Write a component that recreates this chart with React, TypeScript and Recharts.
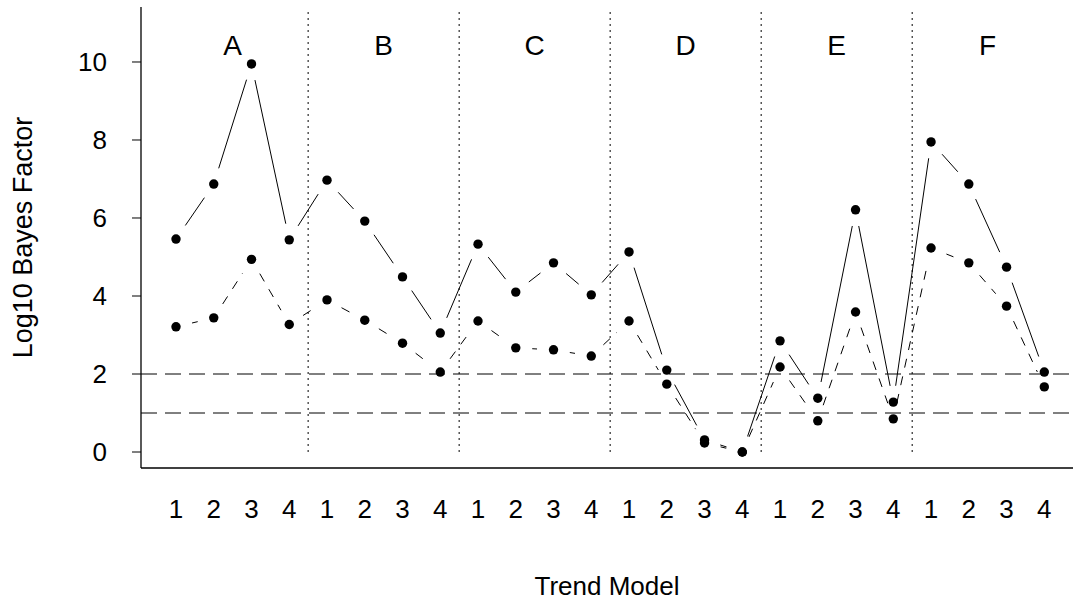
import React from "react";
import {
  ComposedChart,
  Scatter,
  XAxis,
  YAxis,
  ReferenceLine,
  ReferenceDot,
  Label,
} from "recharts";

// trend models inside each group, and the groups
const modelLabels = ["1", "2", "3", "4"];
const groups = ["A", "B", "C", "D", "E", "F"];

// log10 Bayes factor, solid series (upper)
const solidValues = [
  5.46, 6.87, 9.95, 5.44, 6.97, 5.92, 4.49, 3.05, 5.33, 4.1, 4.85, 4.03, 5.13,
  2.1, 0.31, 0.0, 2.85, 1.38, 6.21, 1.28, 7.95, 6.87, 4.74, 2.05,
];
// dashed series (lower)
const dashedValues = [
  3.21, 3.44, 4.94, 3.27, 3.9, 3.38, 2.79, 2.05, 3.36, 2.67, 2.62, 2.46, 3.36,
  1.74, 0.23, 0.0, 2.18, 0.8, 3.59, 0.85, 5.23, 4.85, 3.74, 1.67,
];
// threshold lines
const thresholds = [1, 2];
const yTicks = [0, 2, 4, 6, 8, 10];

const W = 1073;
const H = 604;
const LEFT = 141;
const TOP = 7;
const BOTTOM_AXIS = 136;
const X_DOMAIN: [number, number] = [0.073, 24.76];
const Y_DOMAIN: [number, number] = [-0.41, 11.41];
const FONT = "'Liberation Sans', Arial, Helvetica, sans-serif";

const plotW = W - LEFT;
const plotH = H - TOP - BOTTOM_AXIS;
const pxPerX = plotW / (X_DOMAIN[1] - X_DOMAIN[0]);
const pxPerY = plotH / (Y_DOMAIN[1] - Y_DOMAIN[0]);
const GAP = 16.5; // type="b" gap around each point, in px

const xTicks = solidValues.map((_, i) => i + 1);

const toPoints = (vals: number[]) => vals.map((y, i) => ({ x: i + 1, y }));

// line pieces between points, pulled back from the points like R's type="b"
function gappedSegments(vals: number[]) {
  const segs: { x: number; y: number }[][] = [];
  for (let i = 0; i < vals.length - 1; i++) {
    const x1 = i + 1;
    const x2 = i + 2;
    const y1 = vals[i];
    const y2 = vals[i + 1];
    const len = Math.hypot((x2 - x1) * pxPerX, (y2 - y1) * pxPerY);
    if (len <= 2 * GAP) continue;
    const t = GAP / len;
    segs.push([
      { x: x1 + (x2 - x1) * t, y: y1 + (y2 - y1) * t },
      { x: x2 - (x2 - x1) * t, y: y2 - (y2 - y1) * t },
    ]);
  }
  return segs;
}

const solidSegs = gappedSegments(solidValues);
const dashedSegs = gappedSegments(dashedValues);

const Dot = (p: any) => <circle cx={p.cx} cy={p.cy} r={4.7} fill="#000" />;

export default function App() {
  return (
    <div style={{ position: "absolute", left: 0, top: 0, background: "#fff" }}>
      <ComposedChart
        width={W}
        height={H}
        margin={{ top: TOP, right: 0, bottom: 0, left: 0 }}
        style={{ fontFamily: FONT }}
      >
        <XAxis
          type="number"
          dataKey="x"
          domain={X_DOMAIN}
          allowDataOverflow
          ticks={xTicks}
          interval={0}
          tickLine={false}
          tickSize={0}
          tickMargin={32}
          tickFormatter={(v: number) => modelLabels[(v - 1) % 4]}
          tick={{ fill: "#000", fontSize: 26 }}
          axisLine={{ stroke: "#000", strokeWidth: 1.3 }}
          height={BOTTOM_AXIS}
        >
          <Label
            content={(p: any) => {
              const vb = p.viewBox || { x: LEFT, y: H - BOTTOM_AXIS, width: plotW };
              return (
                <text
                  x={vb.x + vb.width / 2}
                  y={vb.y + 127}
                  textAnchor="middle"
                  fontSize={26}
                  fill="#000"
                  fontFamily={FONT}
                >
                  Trend Model
                </text>
              );
            }}
          />
        </XAxis>
        <YAxis
          type="number"
          dataKey="y"
          domain={Y_DOMAIN}
          allowDataOverflow
          ticks={yTicks}
          interval={0}
          width={LEFT}
          tickSize={9}
          tickMargin={25}
          tick={{ fill: "#000", fontSize: 26 }}
          tickLine={{ stroke: "#000" }}
          axisLine={{ stroke: "#000", strokeWidth: 1.3 }}
        >
          <Label
            content={(p: any) => {
              const vb = p.viewBox || { x: 0, y: TOP, height: plotH };
              const cy = vb.y + vb.height / 2;
              return (
                <text
                  x={32}
                  y={cy}
                  transform={`rotate(-90, 32, ${cy})`}
                  textAnchor="middle"
                  fontSize={27}
                  fill="#000"
                  fontFamily={FONT}
                >
                  Log10 Bayes Factor
                </text>
              );
            }}
          />
        </YAxis>

        {thresholds.map((t) => (
          <ReferenceLine
            key={`h${t}`}
            y={t}
            stroke="#000"
            strokeWidth={1}
            strokeDasharray="16 8"
          />
        ))}

        {groups.slice(1).map((g, i) => (
          <ReferenceLine
            key={`v${g}`}
            segment={[
              { x: (i + 1) * 4 + 0.5, y: 0 },
              { x: (i + 1) * 4 + 0.5, y: 11.38 },
            ]}
            stroke="#000"
            strokeWidth={1}
            strokeDasharray="2 4"
          />
        ))}

        {groups.map((g, i) => (
          <ReferenceDot
            key={`g${g}`}
            x={i * 4 + 2.5}
            y={10.44}
            r={0}
            stroke="none"
            fill="none"
            label={{ value: g, position: "center", fontSize: 28, fill: "#000" }}
          />
        ))}

        {solidSegs.map((s, i) => (
          <ReferenceLine
            key={`s${i}`}
            segment={s}
            stroke="#000"
            strokeWidth={1}
          />
        ))}
        {dashedSegs.map((s, i) => (
          <ReferenceLine
            key={`d${i}`}
            segment={s}
            stroke="#000"
            strokeWidth={1}
            strokeDasharray="9 9"
          />
        ))}

        <Scatter
          data={toPoints(solidValues)}
          dataKey="y"
          fill="#000"
          shape={Dot}
          isAnimationActive={false}
        />
        <Scatter
          data={toPoints(dashedValues)}
          dataKey="y"
          fill="#000"
          shape={Dot}
          isAnimationActive={false}
        />
      </ComposedChart>
    </div>
  );
}
